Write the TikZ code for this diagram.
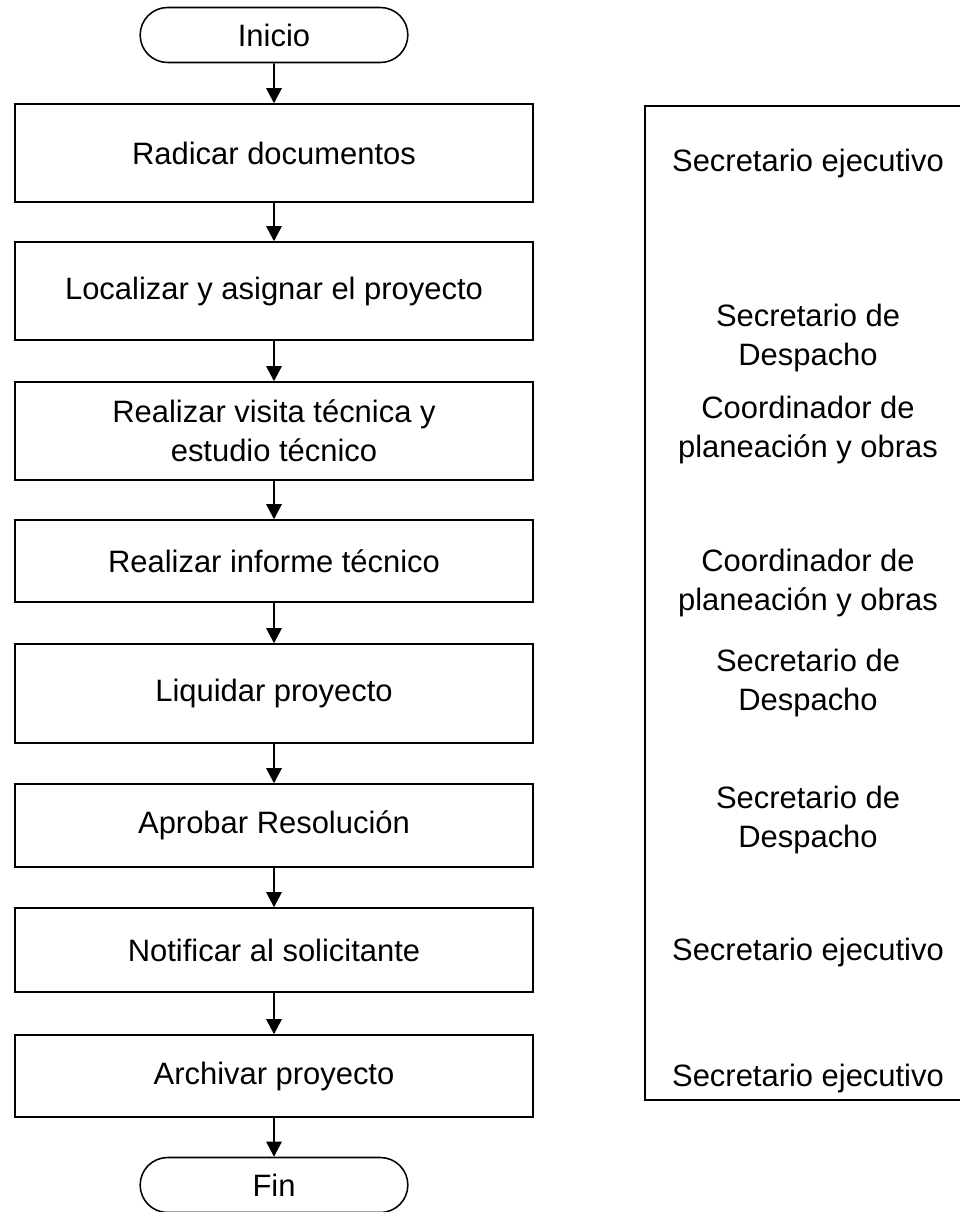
\documentclass[tikz,border=0pt]{standalone}
\usepackage{fontspec}
\setmainfont{Liberation Sans}
\usetikzlibrary{arrows.meta,shapes.misc}

\tikzset{
  every node/.style={font=\fontsize{22pt}{27.7pt}\selectfont},
  stepbox/.style={draw, line width=1.1pt, minimum width=12.95cm, align=center, inner sep=0pt},
  endbox/.style={draw, rounded rectangle, line width=1.1pt, minimum width=6.925cm, minimum height=1.375cm},
  flow/.style={line width=1.1pt, -{Triangle[length=3.8mm,width=3.9mm]}},
  role/.style={align=center}
}

\begin{document}
\begin{tikzpicture}[x=0.025cm,y=-0.025cm]
  \useasboundingbox (0,0) rectangle (960,1212);

  % flujo
  \node[endbox] (inicio) at (274,35) {Inicio};
  \node[stepbox, minimum height=2.45cm] (radicar) at (274,153) {Radicar documentos};
  \node[stepbox, minimum height=2.45cm] (localizar) at (274,291) {Localizar y asignar el proyecto};
  \node[stepbox, minimum height=2.45cm] (visita) at (274,431) {Realizar visita técnica y\\ estudio técnico};
  \node[stepbox, minimum height=2.05cm] (informe) at (274,561) {Realizar informe técnico};
  \node[stepbox, minimum height=2.475cm] (liquidar) at (274,693.5) {Liquidar proyecto};
  \node[stepbox, minimum height=2.075cm] (aprobar) at (274,825.5) {Aprobar Resolución};
  \node[stepbox, minimum height=2.1cm] (notificar) at (274,950) {Notificar al solicitante};
  \node[stepbox, minimum height=2.05cm] (archivar) at (274,1076) {Archivar proyecto};
  \node[endbox] (fin) at (274,1185) {Fin};

  \draw[flow] (inicio) -- (radicar);
  \draw[flow] (radicar) -- (localizar);
  \draw[flow] (localizar) -- (visita);
  \draw[flow] (visita) -- (informe);
  \draw[flow] (informe) -- (liquidar);
  \draw[flow] (liquidar) -- (aprobar);
  \draw[flow] (aprobar) -- (notificar);
  \draw[flow] (notificar) -- (archivar);
  \draw[flow] (archivar) -- (fin);

  % responsables
  \draw[line width=1.1pt] (645,106) rectangle (980,1100);
  \node[role] (r1) at (808,163) {Secretario ejecutivo};
  \node[role] (r2) at (808,338) {Secretario de\\ Despacho};
  \node[role] (r3) at (808,430) {Coordinador de\\ planeación y obras};
  \node[role] (r4) at (808,583) {Coordinador de\\ planeación y obras};
  \node[role] (r5) at (808,683) {Secretario de\\ Despacho};
  \node[role] (r6) at (808,820) {Secretario de\\ Despacho};
  \node[role] (r7) at (808,952) {Secretario ejecutivo};
  \node[role] (r8) at (808,1078) {Secretario ejecutivo};
\end{tikzpicture}
\end{document}
